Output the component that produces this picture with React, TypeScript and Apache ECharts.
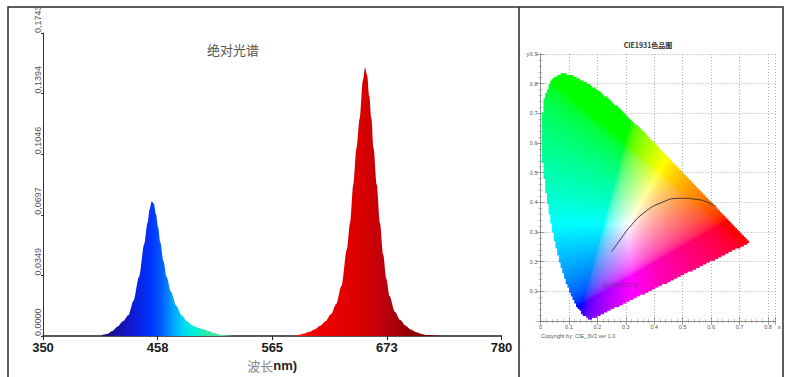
import React, { useEffect, useRef } from "react";
import * as echarts from "echarts";

// ---------- Left chart: absolute spectrum ----------
const X_TICKS = [350, 457.5, 565, 672.5, 780];
const Y_TICKS = [0, 0.03486, 0.06972, 0.10458, 0.13944, 0.1743];

const BLUE_WL = [405, 410, 415, 420, 425, 430, 435, 440, 445, 448, 450, 452, 454, 456, 458, 460, 463, 466, 470, 475, 480, 485, 490, 495, 500, 505, 510, 515, 520, 525, 530];
const BLUE_VAL = [0.0005, 0.0012, 0.003, 0.0055, 0.0085, 0.012, 0.0205, 0.034, 0.053, 0.065, 0.073, 0.0775, 0.076, 0.07, 0.0625, 0.054, 0.043, 0.034, 0.0255, 0.0175, 0.012, 0.0085, 0.0062, 0.0048, 0.004, 0.003, 0.0019, 0.0011, 0.0005, 0.0002, 0];

const RED_WL = [585, 590, 595, 600, 605, 610, 615, 620, 625, 630, 635, 638, 641, 644, 647, 650, 652, 654, 656, 658, 660, 663, 666, 669, 672, 675, 680, 685, 690, 695, 700, 705, 710, 720, 730];
const RED_VAL = [0, 0.0008, 0.0015, 0.0025, 0.004, 0.006, 0.0085, 0.0125, 0.0185, 0.029, 0.05, 0.065, 0.087, 0.108, 0.125, 0.147, 0.1545, 0.15, 0.138, 0.125, 0.108, 0.087, 0.065, 0.047, 0.033, 0.023, 0.014, 0.0092, 0.006, 0.0038, 0.0022, 0.0012, 0.0006, 0.0002, 0];

// ---------- Right chart: CIE 1931 chromaticity ----------
const LOCUS_WL = [380, 385, 390, 395, 400, 405, 410, 415, 420, 425, 430, 435, 440, 445, 450, 455, 460, 465, 470, 475, 480, 485, 490, 495, 500, 505, 510, 515, 520, 525, 530, 535, 540, 545, 550, 555, 560, 565, 570, 575, 580, 585, 590, 595, 600, 605, 610, 615, 620, 625, 630, 635, 640, 645, 650, 655, 660, 670, 680, 700];
const LOCUS_X = [0.1741, 0.174, 0.1738, 0.1736, 0.1733, 0.173, 0.1726, 0.1721, 0.1714, 0.1703, 0.1689, 0.1669, 0.1644, 0.1611, 0.1566, 0.151, 0.144, 0.1355, 0.1241, 0.1096, 0.0913, 0.0687, 0.0454, 0.0235, 0.0082, 0.0039, 0.0139, 0.0389, 0.0743, 0.1142, 0.1547, 0.1929, 0.2296, 0.2658, 0.3016, 0.3373, 0.3731, 0.4087, 0.4441, 0.4788, 0.5125, 0.5448, 0.5752, 0.6029, 0.627, 0.6482, 0.6658, 0.6801, 0.6915, 0.7006, 0.7079, 0.714, 0.719, 0.723, 0.726, 0.7283, 0.73, 0.732, 0.7334, 0.7347];
const LOCUS_Y = [0.005, 0.005, 0.0049, 0.0049, 0.0048, 0.0048, 0.0048, 0.0048, 0.0051, 0.0058, 0.0069, 0.0086, 0.0109, 0.0138, 0.0177, 0.0227, 0.0297, 0.0399, 0.0578, 0.0868, 0.1327, 0.2007, 0.295, 0.4127, 0.5384, 0.6548, 0.7502, 0.812, 0.8338, 0.8262, 0.8059, 0.7816, 0.7543, 0.7243, 0.6923, 0.6589, 0.6245, 0.5896, 0.5547, 0.5202, 0.4866, 0.4544, 0.4242, 0.3965, 0.3725, 0.3514, 0.334, 0.3197, 0.3083, 0.2993, 0.292, 0.2859, 0.2809, 0.277, 0.274, 0.2717, 0.27, 0.268, 0.2666, 0.2653];
const PLANCK_X = [0.25, 0.2795, 0.3147, 0.3615, 0.42, 0.49, 0.549, 0.596, 0.619];
const PLANCK_Y = [0.234, 0.273, 0.318, 0.363, 0.397, 0.4135, 0.41, 0.397, 0.385];
const CIE_TITLE = "CIE1931色品图";
const CIE_FOOT = "Copyright by: CIE_3V2 ver 1.0";
const CIE_MARK = "(0.2853,0.1172)";

const STEP = 0.006;

function inside(px: number, py: number): boolean {
  let c = false;
  const n = LOCUS_X.length;
  for (let i = 0, j = n - 1; i < n; j = i++) {
    const xi = LOCUS_X[i], yi = LOCUS_Y[i], xj = LOCUS_X[j], yj = LOCUS_Y[j];
    if (yi > py !== yj > py && px < ((xj - xi) * (py - yi)) / (yj - yi) + xi) c = !c;
  }
  return c;
}

function xyColor(x: number, y: number): string {
  const X = x / y, Y = 1, Z = (1 - x - y) / y;
  let r = 3.2406 * X - 1.5372 * Y - 0.4986 * Z;
  let g = -0.9689 * X + 1.8758 * Y + 0.0415 * Z;
  let b = 0.0557 * X - 0.204 * Y + 1.057 * Z;
  r = Math.max(0, r); g = Math.max(0, g); b = Math.max(0, b);
  const m = Math.max(r, g, b) || 1;
  const gam = (c: number) => {
    c = c / m;
    const v = c <= 0.0031308 ? 12.92 * c : 1.055 * Math.pow(c, 1 / 2.4) - 0.055;
    return Math.round(Math.min(1, Math.max(0, v)) * 255);
  };
  return `rgb(${gam(r)},${gam(g)},${gam(b)})`;
}

export default function App() {
  const ref = useRef<HTMLDivElement>(null);
  useEffect(() => {
    if (!ref.current) return;
    const chart = echarts.init(ref.current, null, { renderer: "svg" });

    const cells: number[][] = [];
    const cellColors: string[] = [];
    for (let x = 0; x < 0.75; x += STEP) {
      for (let y = 0; y < 0.85; y += STEP) {
        const cx = x + STEP / 2, cy = y + STEP / 2;
        if (inside(cx, cy)) {
          cells.push([x, y]);
          cellColors.push(xyColor(cx, cy));
        }
      }
    }

    const bMin = BLUE_WL[0], bMax = BLUE_WL[BLUE_WL.length - 1];
    const bo = (w: number) => (w - bMin) / (bMax - bMin);
    const rMin = RED_WL[0], rMax = RED_WL[RED_WL.length - 1];
    const ro = (w: number) => (w - rMin) / (rMax - rMin);

    const numFont = "'Liberation Sans', Arial, sans-serif";
    const cjk = "'Noto Sans CJK SC', sans-serif";

    const cieAxisCommon = {
      min: 0,
      interval: 0.1,
      axisLine: { show: true, lineStyle: { color: "#888", width: 0.8 } },
      axisTick: { show: true, inside: true, length: 4, lineStyle: { color: "#666", width: 0.6 } },
      minorTick: { show: true, splitNumber: 5, length: 2, lineStyle: { color: "#888", width: 0.5 } },
    };

    chart.setOption({
      animation: false,
      grid: [
        { left: 43, right: 284.5, top: 33, bottom: 38 },
        { left: 540.5, right: 10.9, top: 54, bottom: 56 },
      ],
      xAxis: [
        {
          type: "value",
          gridIndex: 0,
          min: 350,
          max: 780,
          axisLine: { show: true, lineStyle: { color: "#222", width: 1.5 } },
          axisTick: { show: true, customValues: X_TICKS, length: 4, lineStyle: { color: "#222" } },
          axisLabel: {
            customValues: X_TICKS,
            formatter: (v: number) => String(Math.round(v)),
            fontFamily: numFont,
            fontWeight: "bold",
            fontSize: 13,
            color: "#1a1a1a",
            margin: 5,
          },
          splitLine: { show: false },
          name: "{a|波长}{b|nm)}",
          nameLocation: "middle",
          nameGap: 16,
          nameTextStyle: {
            rich: {
              a: { fontFamily: cjk, fontSize: 13, color: "#888" },
              b: { fontFamily: numFont, fontSize: 13, fontWeight: "bold", color: "#222" },
            },
          },
        },
        {
          type: "value",
          gridIndex: 1,
          max: 0.825,
          position: "bottom",
          ...cieAxisCommon,
          axisLabel: {
            fontSize: 5.5,
            color: "#555",
            margin: 3,
            showMaxLabel: false,
            fontFamily: numFont,
            formatter: (v: number) => (v === 0 ? "0" : v.toFixed(1)),
          },
          splitLine: { show: true, lineStyle: { color: "#999", type: [1, 2], width: 0.8 } },
          name: "x",
          nameLocation: "end",
          nameGap: -4,
          nameTextStyle: { fontSize: 6, color: "#555", verticalAlign: "top", padding: [3, 0, 0, 0] },
        },
        {
          type: "value",
          gridIndex: 1,
          max: 0.825,
          position: "top",
          ...cieAxisCommon,
          axisLabel: { show: false },
          splitLine: { show: false },
        },
      ],
      yAxis: [
        {
          type: "value",
          gridIndex: 0,
          min: 0,
          max: 0.1743,
          axisLine: { show: true, lineStyle: { color: "#333", width: 1 } },
          axisTick: { show: true, customValues: Y_TICKS, length: 2, lineStyle: { color: "#333" } },
          axisLabel: {
            customValues: Y_TICKS,
            rotate: 90,
            align: "left",
            verticalAlign: "bottom",
            fontFamily: numFont,
            fontSize: 9,
            color: "#555",
            margin: 1,
            formatter: (v: number) => v.toFixed(4).replace(".", ","),
          },
          splitLine: { show: false },
        },
        {
          type: "value",
          gridIndex: 1,
          max: 0.9,
          position: "left",
          ...cieAxisCommon,
          axisLabel: {
            fontSize: 5.5,
            color: "#555",
            margin: 3,
            fontFamily: numFont,
            showMinLabel: false,
            formatter: (v: number) => (v === 0 ? "0" : v.toFixed(1)),
          },
          splitLine: { show: true, lineStyle: { color: "#999", type: [1, 2], width: 0.8 } },
        },
        {
          type: "value",
          gridIndex: 1,
          max: 0.9,
          position: "right",
          ...cieAxisCommon,
          axisLabel: { show: false },
          splitLine: { show: false },
        },
      ],
      series: [
        {
          type: "line",
          xAxisIndex: 0,
          yAxisIndex: 0,
          data: BLUE_WL.map((w, i) => [w, BLUE_VAL[i]]),
          symbol: "none",
          smooth: 0.3,
          smoothMonotone: "x",
          lineStyle: { width: 0 },
          areaStyle: {
            opacity: 1,
            color: new echarts.graphic.LinearGradient(0, 0, 1, 0, [
              { offset: 0, color: "#1a1270" },
              { offset: bo(425), color: "#1414b4" },
              { offset: bo(440), color: "#0a22e6" },
              { offset: bo(452), color: "#0036ff" },
              { offset: bo(462), color: "#0060ff" },
              { offset: bo(472), color: "#00a4ff" },
              { offset: bo(482), color: "#00d8f4" },
              { offset: bo(492), color: "#00f0d4" },
              { offset: bo(505), color: "#30e8a4" },
              { offset: 1, color: "#8ae4a8" },
            ]),
          },
          z: 3,
        },
        {
          type: "line",
          xAxisIndex: 0,
          yAxisIndex: 0,
          data: RED_WL.map((w, i) => [w, RED_VAL[i]]),
          symbol: "none",
          smooth: 0.3,
          smoothMonotone: "x",
          lineStyle: { width: 0 },
          areaStyle: {
            opacity: 1,
            color: new echarts.graphic.LinearGradient(0, 0, 1, 0, [
              { offset: 0, color: "#ff3030" },
              { offset: ro(600), color: "#f40000" },
              { offset: ro(630), color: "#e40000" },
              { offset: ro(650), color: "#d80000" },
              { offset: ro(665), color: "#c4000a" },
              { offset: ro(680), color: "#a8000a" },
              { offset: ro(700), color: "#880000" },
              { offset: 1, color: "#6a0000" },
            ]),
          },
          z: 3,
        },
        {
          type: "custom",
          xAxisIndex: 1,
          yAxisIndex: 1,
          silent: true,
          progressive: 0,
          clip: true,
          data: cells,
          renderItem: (params: any, api: any) => {
            const x0 = api.value(0);
            const y0 = api.value(1);
            const p0 = api.coord([x0, y0 + STEP]);
            const p1 = api.coord([x0 + STEP, y0]);
            return {
              type: "rect",
              shape: { x: p0[0] - 0.35, y: p0[1] - 0.35, width: p1[0] - p0[0] + 0.7, height: p1[1] - p0[1] + 0.7 },
              style: { fill: cellColors[params.dataIndex] },
            };
          },
          z: 2,
        },
        {
          type: "line",
          xAxisIndex: 1,
          yAxisIndex: 1,
          data: PLANCK_X.map((x, i) => [x, PLANCK_Y[i]]),
          symbol: "none",
          smooth: true,
          lineStyle: { color: "#3a3a3a", width: 1 },
          silent: true,
          z: 4,
        },
      ],
      graphic: [
        {
          type: "rect",
          shape: { x: 8, y: 7, width: 775, height: 375 },
          style: { fill: "none", stroke: "#2a2a2a", lineWidth: 1.5 },
          silent: true,
        },
        {
          type: "line",
          shape: { x1: 519, y1: 7, x2: 519, y2: 377 },
          style: { stroke: "#2a2a2a", lineWidth: 1.5 },
          silent: true,
        },
        {
          type: "text",
          x: 233,
          y: 49,
          style: { text: "绝对光谱", font: `13px ${cjk}`, fill: "#555", align: "center", verticalAlign: "middle" },
        },
        {
          type: "text",
          x: 648,
          y: 45,
          style: { text: CIE_TITLE, font: `bold 7px ${cjk}`, fill: "#333", align: "center", verticalAlign: "middle" },
        },
        {
          type: "text",
          x: 528,
          y: 54,
          style: { text: "y", font: `6px ${numFont}`, fill: "#555", align: "center", verticalAlign: "middle" },
        },
        {
          type: "text",
          x: 541,
          y: 336,
          style: { text: CIE_FOOT, font: `5.5px ${numFont}`, fill: "#555", align: "left", verticalAlign: "middle" },
        },
        {
          type: "text",
          x: 620,
          y: 285,
          z: 10,
          style: { text: CIE_MARK, font: `5px ${numFont}`, fill: "#7a2aa0", align: "center", verticalAlign: "middle" },
        },
      ],
    });
    return () => chart.dispose();
  }, []);
  return (
    <div
      ref={ref}
      style={{ position: "fixed", left: 0, top: 0, width: 786, height: 377, background: "#fff" }}
    />
  );
}
